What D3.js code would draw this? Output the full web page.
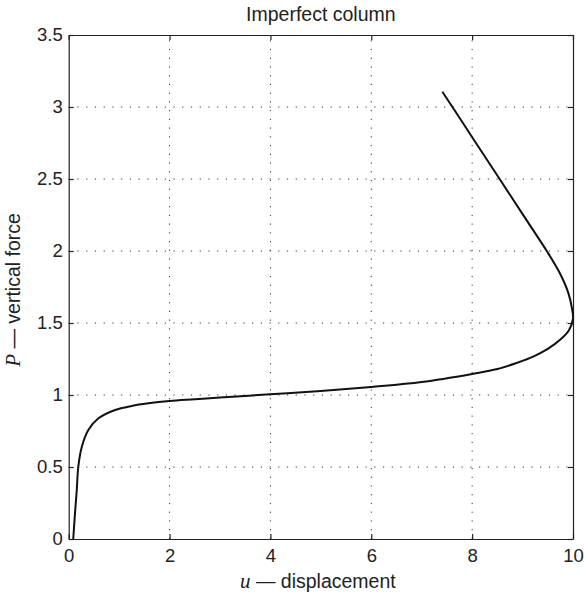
<!DOCTYPE html>
<html>
<head>
<meta charset="utf-8">
<script src="https://cdn.jsdelivr.net/npm/d3@7"></script>
<style>
  body { margin: 0; background: #fff; }
  svg { display: block; }
  text { font-family: "Liberation Sans", Arial, Helvetica, sans-serif; fill: #222; }
</style>
</head>
<body>
<svg id="chart" width="584" height="595"></svg>
<script>
// ---- data ----
const uValues = [0.09, 0.125, 0.16, 0.19, 0.26, 0.39, 0.59, 0.92, 1.25, 1.58, 2.0, 2.5, 3.0, 4.0, 5.0, 6.0, 7.0, 8.0, 8.5, 8.9, 9.2, 9.5, 9.75, 9.92, 10.0, 9.98, 9.91, 9.74, 9.48, 9.2, 8.9, 8.49, 8.02, 7.59, 7.41];
const pValues = [0.0, 0.18, 0.34, 0.5, 0.64, 0.757, 0.838, 0.896, 0.924, 0.942, 0.958, 0.97, 0.982, 1.005, 1.028, 1.056, 1.09, 1.146, 1.18, 1.225, 1.265, 1.32, 1.385, 1.45, 1.53, 1.60, 1.706, 1.845, 2.0, 2.15, 2.31, 2.53, 2.78, 3.01, 3.106];
const xTicks = [0, 2, 4, 6, 8, 10];
const yTicks = [0, 0.5, 1, 1.5, 2, 2.5, 3, 3.5];
const xTickLabels = ["0", "2", "4", "6", "8", "10"];
const yTickLabels = ["0", "0.5", "1", "1.5", "2", "2.5", "3", "3.5"];
const titleText = "Imperfect column";

// ---- layout ----
const W = 584, H = 595;
const margin = { left: 68.7, right: 11, top: 35, bottom: 56 };
const x = d3.scaleLinear().domain([0, 10]).range([margin.left, W - margin.right]);
const y = d3.scaleLinear().domain([0, 3.5]).range([H - margin.bottom, margin.top]);

const svg = d3.select("#chart");
const x0 = x.range()[0], x1 = x.range()[1];
const y0 = y.range()[0], y1 = y.range()[1];

// grid (dotted)
const grid = svg.append("g").attr("stroke", "#333").attr("stroke-width", 1)
  .attr("stroke-dasharray", "1.2,7.53").attr("fill", "none");
xTicks.filter(t => t > 0 && t < 10).forEach(t => {
  grid.append("line").attr("x1", x(t)).attr("x2", x(t)).attr("y1", y0).attr("y2", y1);
});
yTicks.filter(t => t > 0 && t < 3.5).forEach(t => {
  grid.append("line").attr("x1", x0).attr("x2", x1).attr("y1", y(t)).attr("y2", y(t));
});

// axes with inward ticks on all four sides
const tickLen = 5;
const axB = d3.axisBottom(x).tickValues(xTicks).tickFormat((d, i) => xTickLabels[i]).tickSizeInner(-tickLen).tickSizeOuter(0).tickPadding(10);
const axT = d3.axisTop(x).tickValues(xTicks).tickFormat("").tickSizeInner(-tickLen).tickSizeOuter(0);
const axL = d3.axisLeft(y).tickValues(yTicks).tickFormat((d, i) => yTickLabels[i]).tickSizeInner(-tickLen).tickSizeOuter(0).tickPadding(6);
const axR = d3.axisRight(y).tickValues(yTicks).tickFormat("").tickSizeInner(-tickLen).tickSizeOuter(0);

function style(g) {
  g.selectAll("path").attr("stroke", "#222").attr("stroke-width", 1.2);
  g.selectAll("line").attr("stroke", "#222").attr("stroke-width", 1.2);
  g.selectAll("text").attr("font-size", "18.5px").attr("fill", "#222")
    .style("font-family", '"Liberation Sans", Arial, sans-serif');
}
svg.append("g").attr("transform", `translate(0,${y0})`).call(axB).call(style);
svg.append("g").attr("transform", `translate(0,${y1})`).call(axT).call(style);
svg.append("g").attr("transform", `translate(${x0},0)`).call(axL).call(style);
svg.append("g").attr("transform", `translate(${x1},0)`).call(axR).call(style);

// curve
const pts = uValues.map((u, i) => [u, pValues[i]]);
const line = d3.line().x(d => x(d[0])).y(d => y(d[1])).curve(d3.curveCatmullRom.alpha(0.5));
svg.append("path").datum(pts).attr("d", line)
  .attr("fill", "none").attr("stroke", "#111").attr("stroke-width", 2);

// title
svg.append("text").attr("x", (x0 + x1) / 2).attr("y", 21).attr("text-anchor", "middle")
  .attr("font-size", "19.5px").text(titleText);

// x label
const xl = svg.append("text").attr("x", (x0 + x1) / 2 - 3).attr("y", 588).attr("text-anchor", "middle")
  .attr("font-size", "19.5px");
xl.append("tspan").style("font-family", '"Liberation Serif", "DejaVu Serif", serif').attr("font-style", "italic").attr("font-size", "21px").text("u");
xl.append("tspan").text(" \u2014 displacement");

// y label
const yl = svg.append("text").attr("transform", `translate(20,${(y0 + y1) / 2 + 3}) rotate(-90)`)
  .attr("text-anchor", "middle").attr("font-size", "19.5px");
yl.append("tspan").style("font-family", '"Liberation Serif", "DejaVu Serif", serif').attr("font-style", "italic").attr("font-size", "21px").text("P");
yl.append("tspan").text(" \u2014 vertical force");
</script>
</body>
</html>
